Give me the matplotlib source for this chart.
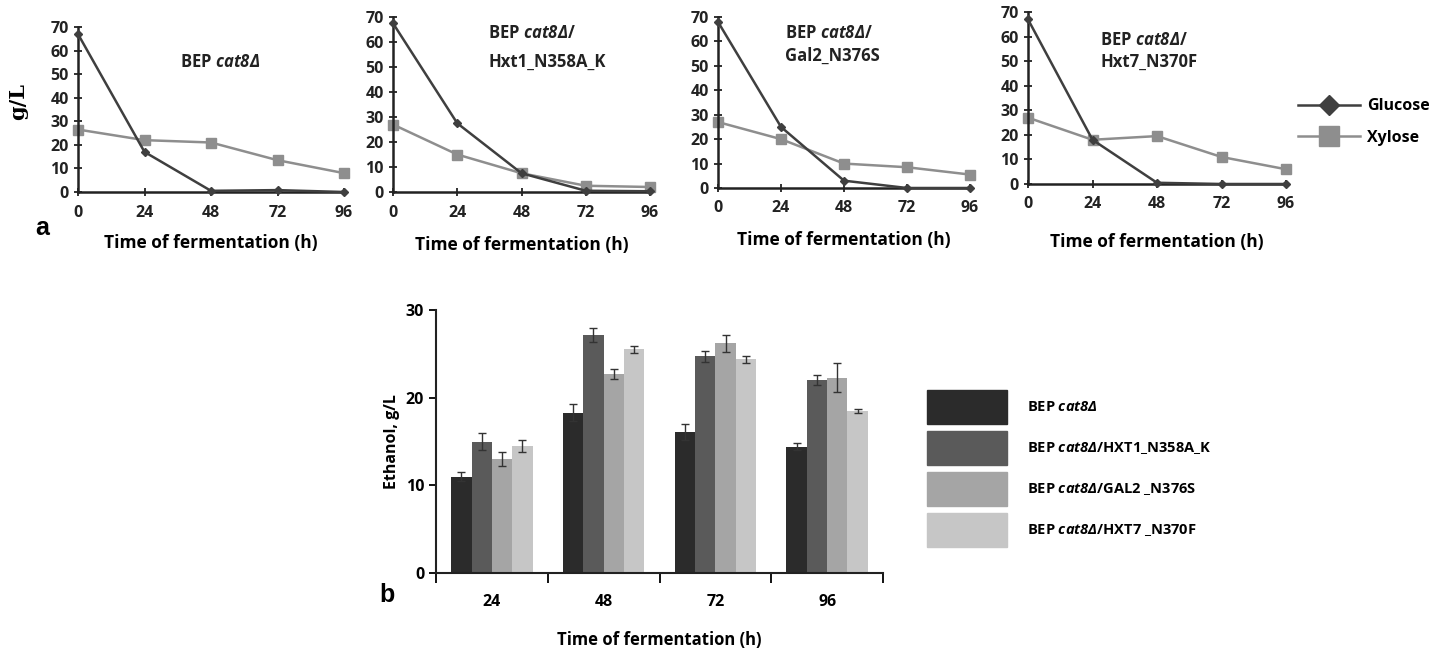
import matplotlib
matplotlib.use("Agg")
import matplotlib.pyplot as plt
from matplotlib.lines import Line2D
from matplotlib.patches import Patch
import numpy as np

plt.rcParams['font.family'] = ['Open Sans', 'DejaVu Sans']
plt.rcParams['font.weight'] = 'bold'
plt.rcParams['axes.labelweight'] = 'bold'
plt.rcParams['mathtext.fontset'] = 'custom'
# everything inside $...$ is the italic strain name
plt.rcParams['mathtext.it'] = 'Open Sans:italic:bold'
plt.rcParams['mathtext.rm'] = 'Open Sans:italic:bold'

# sugar consumption data (g/L)
hours = [0, 24, 48, 72, 96]
glucose = [
    [67, 17, 0.5, 0.8, 0],
    [67.5, 27.5, 7.5, 0.5, 0.3],
    [68, 25, 3, 0, 0],
    [67, 18, 0.5, 0, 0],
]
xylose = [
    [26.5, 22, 21, 13.5, 8],
    [27, 15, 7.5, 2.5, 2],
    [27, 20, 10, 8.5, 5.5],
    [27, 18, 19.5, 11, 6],
]
panel_titles = [
    ["BEP $cat8Δ$"],
    ["BEP $cat8Δ$/", "Hxt1_N358A_K"],
    ["BEP $cat8Δ$/", "Gal2_N376S"],
    ["BEP $cat8Δ$/", "Hxt7_N370F"],
]

# ethanol data (g/L)
time_labels = ["24", "48", "72", "96"]
strains = [
    "BEP $cat8Δ$",
    "BEP $cat8Δ$/HXT1_N358A_K",
    "BEP $cat8Δ$/GAL2 _N376S",
    "BEP $cat8Δ$/HXT7 _N370F",
]
ethanol = [
    [11.0, 18.3, 16.1, 14.4],
    [15.0, 27.2, 24.7, 22.0],
    [13.0, 22.7, 26.2, 22.3],
    [14.5, 25.5, 24.4, 18.5],
]
ethanol_err = [
    [0.5, 1.0, 0.9, 0.4],
    [1.0, 0.8, 0.6, 0.6],
    [0.8, 0.6, 1.0, 1.6],
    [0.7, 0.4, 0.4, 0.2],
]

bar_colors = ["#2b2b2b", "#5a5a5a", "#a5a5a5", "#c6c6c6"]
glc_color = "#3f3f3f"
xyl_color = "#8e8e8e"

fig = plt.figure(figsize=(14.45, 6.49), dpi=100)
W, H = 1445, 649

def px_axes(x0, y0, x1, y1):
    return fig.add_axes([x0 / W, 1 - y1 / H, (x1 - x0) / W, (y1 - y0) / H])

def px_text(x, y, s, **kw):
    return fig.text(x / W, 1 - y / H, s, **kw)

boxes = [(78, 27, 344, 192), (393, 17, 650, 192), (718, 17, 970, 188), (1028, 12, 1286, 184)]
# pixel positions of the title lines (left x, line centre y's)
title_xy = [(180, [62]), (488, [33, 62]), (785, [33, 56]), (1100, [40, 62])]
xlabel_y = [243, 245, 240, 242]

for i, box in enumerate(boxes):
    ax = px_axes(*box)
    ax.plot(hours, glucose[i], color=glc_color, lw=1.8, marker="D", ms=4.5, clip_on=False, zorder=3)
    ax.plot(hours, xylose[i], color=xyl_color, lw=1.8, marker="s", ms=6.5, clip_on=False, zorder=2)
    ax.set_xlim(0, 96)
    ax.set_ylim(0, 70)
    ax.set_xticks(hours)
    ax.set_yticks(range(0, 71, 10))
    for s in ["top", "right"]:
        ax.spines[s].set_visible(False)
    for s in ["left", "bottom"]:
        ax.spines[s].set_linewidth(1.8)
        ax.spines[s].set_color("#222222")
    ax.tick_params(direction="inout", length=6, width=1.3, labelsize=11.5, colors="#222222")
    ax.tick_params(axis="x", pad=6)
    ax.set_xlabel("Time of fermentation (h)", fontsize=12.5)
    # put the x label at its pixel row
    ax.xaxis.set_label_coords(0.5, (box[3] - xlabel_y[i]) / (box[3] - box[1]))
    ax.xaxis.label.set_va("center")
    tx, tys = title_xy[i]
    for line, ty in zip(panel_titles[i], tys):
        px_text(tx, ty, line, fontsize=12, ha="left", va="center", color="#222222")

px_text(18, 102, "g/L", rotation=90, fontsize=15, family="DejaVu Serif",
        weight="bold", ha="center", va="center")
px_text(42, 228, "a", fontsize=18, weight="bold", family="Liberation Sans",
        ha="center", va="center")

leg_handles = [
    Line2D([], [], color=glc_color, lw=1.8, marker="D", ms=10),
    Line2D([], [], color=xyl_color, lw=1.8, marker="s", ms=14),
]
fig.legend(leg_handles, ["Glucose", "Xylose"], loc="center left",
           bbox_to_anchor=(1298 / W, 1 - 122 / H), frameon=False, fontsize=11.5,
           handlelength=3.9, labelspacing=0.95, handletextpad=0.45, borderpad=0,
           borderaxespad=0)

# ethanol bar chart
axb = px_axes(436, 310, 883, 573)
x = np.arange(len(time_labels))
bw = 0.182
for j in range(len(strains)):
    axb.bar(x + (j - 1.5) * bw, ethanol[j], bw, yerr=ethanol_err[j], color=bar_colors[j],
            label=strains[j], error_kw=dict(ecolor="#333333", elinewidth=1, capsize=3, capthick=1))
axb.set_xlim(-0.5, 3.5)
axb.set_ylim(0, 30)
axb.set_yticks([0, 10, 20, 30])
axb.set_xticks(x)
axb.set_xticklabels(time_labels)
axb.set_xticks(np.arange(-0.5, 3.6, 1), minor=True)
axb.tick_params(axis="x", which="major", length=0, labelsize=11.5, pad=15)
axb.tick_params(axis="x", which="minor", length=7, width=1.3, direction="out")
axb.tick_params(axis="y", length=5, width=1.3, labelsize=11.5)
for s in ["top", "right"]:
    axb.spines[s].set_visible(False)
for s in ["left", "bottom"]:
    axb.spines[s].set_linewidth(1.5)
    axb.spines[s].set_color("#222222")
axb.set_ylabel("Ethanol, g/L", fontsize=11.5, labelpad=4)
axb.set_xlabel("Time of fermentation (h)", fontsize=12, labelpad=15)
px_text(387, 595, "b", fontsize=18, weight="bold", family="Liberation Sans",
        ha="center", va="center")

bar_handles = [Patch(color=c) for c in bar_colors]
fs = 10.5
fpx = fs * 100 / 72
fig.legend(bar_handles, strains, loc="upper left", bbox_to_anchor=(927 / W, 1 - 390 / H),
           frameon=False, fontsize=fs, handlelength=80 / fpx, handleheight=3.2,
           labelspacing=7 / fpx, handletextpad=20 / fpx, borderpad=0, borderaxespad=0)

fig.savefig("out.png", dpi=100)
